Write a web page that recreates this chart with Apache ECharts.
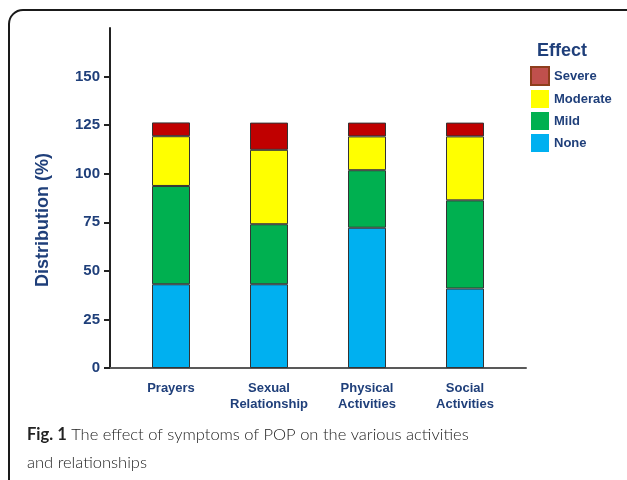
<!DOCTYPE html>
<html>
<head>
<meta charset="utf-8">
<script src="https://cdn.jsdelivr.net/npm/echarts@6/dist/echarts.min.js"></script>
<style>
  html, body { margin: 0; padding: 0; background: #fff; }
  #chart { width: 627px; height: 480px; }
</style>
</head>
<body>
<div id="chart"></div>
<script>
// data (%)
var categories = ['Prayers', 'Sexual\nRelationship', 'Physical\nActivities', 'Social\nActivities'];
var noneVals = [43.1, 43.1, 72.2, 40.9];
var mildVals = [50.6, 30.9, 29.6, 45.4];
var moderateVals = [25.6, 38.3, 17.4, 32.9];
var severeVals = [7.1, 14.0, 7.1, 7.1];
var yTicks = [0, 25, 50, 75, 100, 125, 150];
var legendNames = ['Severe', 'Moderate', 'Mild', 'None'];

var navy = '#1f3f7a';
var font = 'Liberation Sans, Arial, sans-serif';

var myChart = echarts.init(document.getElementById('chart'));

function barSeries(name, data, color) {
    return {
        name: name,
        type: 'bar',
        stack: 'total',
        xAxisIndex: 1,
        yAxisIndex: 1,
        barWidth: 38,
        data: data,
        itemStyle: { color: color, borderColor: '#333', borderWidth: 1 }
    };
}

var option = {
    animation: false,
    title: [{
        text: 'Effect',
        left: 532,
        top: 37,
        textStyle: { fontFamily: font, fontSize: 18, fontWeight: 'bold', color: navy }
    }, {
        text: '{b|Fig. 1} The effect of symptoms of POP on the various activities\nand relationships',
        left: 22,
        top: 416,
        textStyle: {
            fontFamily: 'Lato', fontSize: 16.5, fontWeight: 300, color: '#222', lineHeight: 28,
            rich: { b: { fontFamily: 'Lato', fontSize: 16.5, fontWeight: 'bold', color: '#222', lineHeight: 28 } }
        }
    }],
    graphic: [{
        type: 'rect',
        shape: { x: 9, y: 10, width: 660, height: 520, r: 14 },
        style: { fill: 'none', stroke: '#1a1a1a', lineWidth: 2 },
        silent: true
    }],
    legend: {
        orient: 'vertical',
        left: 525,
        top: 61,
        itemWidth: 18,
        itemHeight: 18,
        itemGap: 4,
        icon: 'rect',
        textStyle: { fontFamily: font, fontSize: 13, fontWeight: 'bold', color: navy, lineHeight: 18 },
        data: [
            { name: legendNames[0], itemStyle: { color: '#c0504d', borderColor: '#8e3e1c', borderWidth: 2 } },
            { name: legendNames[1], itemStyle: { borderWidth: 0 } },
            { name: legendNames[2], itemStyle: { borderWidth: 0 } },
            { name: legendNames[3], itemStyle: { borderWidth: 0 } }
        ]
    },
    grid: [
        { left: 110, right: 101, top: 28, bottom: 112 },
        { left: 122, right: 113, top: 28, bottom: 112 }
    ],
    xAxis: [{
        gridIndex: 0,
        type: 'value',
        min: 0,
        max: 1,
        axisLine: { show: true, lineStyle: { color: '#595959', width: 2 } },
        axisTick: { show: false },
        axisLabel: { show: false },
        splitLine: { show: false }
    }, {
        gridIndex: 1,
        type: 'category',
        data: categories,
        axisLine: { show: false },
        axisTick: { show: false },
        axisLabel: {
            interval: 0,
            margin: 12,
            fontFamily: font, fontSize: 13, fontWeight: 'bold', color: navy, lineHeight: 16
        }
    }],
    yAxis: [{
        gridIndex: 0,
        type: 'value',
        min: 0,
        max: 175,
        interval: 25,
        name: 'Distribution (%)',
        nameLocation: 'middle',
        nameGap: 58,
        nameTextStyle: {
            fontFamily: font, fontSize: 18, fontWeight: 'bold', color: navy,
            padding: [0, 44, 0, 0]
        },
        axisLine: { show: true, lineStyle: { color: '#222', width: 2 } },
        axisTick: { show: true, length: 6, customValues: yTicks, lineStyle: { color: '#222', width: 2 } },
        axisLabel: {
            customValues: yTicks,
            margin: 10,
            fontFamily: font, fontSize: 15, fontWeight: 'bold', color: navy
        },
        splitLine: { show: false }
    }, {
        gridIndex: 1,
        type: 'value',
        min: 0,
        max: 175,
        show: false,
        splitLine: { show: false }
    }],
    series: [
        barSeries('None', noneVals, '#00b0f0'),
        barSeries('Mild', mildVals, '#00b050'),
        barSeries('Moderate', moderateVals, '#ffff00'),
        barSeries('Severe', severeVals, '#c00000')
    ]
};

myChart.setOption(option);
</script>
</body>
</html>
